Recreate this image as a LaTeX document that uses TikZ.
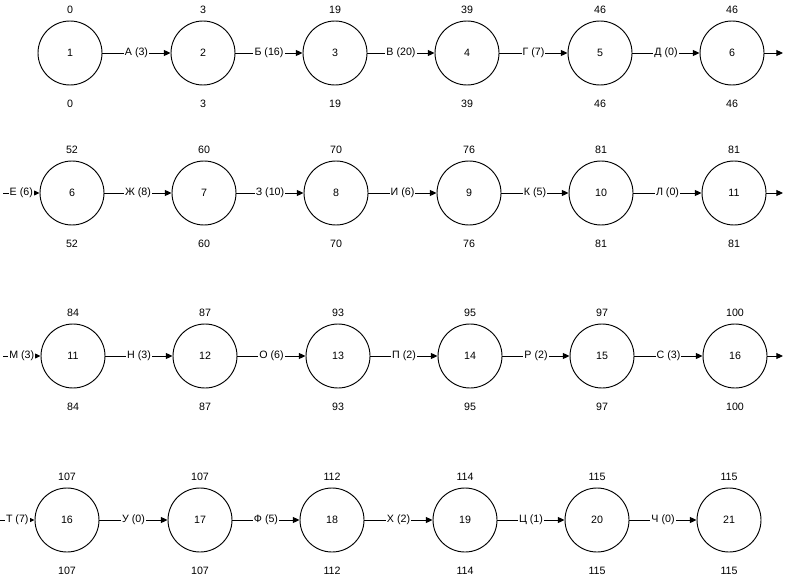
\documentclass[tikz,border=0pt]{standalone}
\usepackage{fontspec}
\setmainfont{Liberation Sans}
\usetikzlibrary{arrows.meta}
\tikzset{
  >={Triangle[length=5pt,width=4.5pt]},
  txt/.style={font=\fontsize{8}{9.6}\selectfont},
  ev/.style={draw,circle,minimum size=48pt,inner sep=0pt,line width=0.7pt,txt},
  num/.style={txt,inner sep=1pt},
  early/.style={label={[num,label distance=3.8pt]above:#1}},
  late/.style={label={[num,label distance=9.5pt]below:#1}},
  job/.style={->,line width=0.7pt},
  jl/.style={midway,fill=white,inner sep=0.8pt,txt},
}
\begin{document}
\begin{tikzpicture}[x=0.75pt,y=-0.75pt]
  \useasboundingbox (0,0) rectangle (788,585);
  % row 1
  \node[ev,early=0,late=0]   (a1) at (70,53)  {1};
  \node[ev,early=3,late=3]   (a2) at (203,53) {2};
  \node[ev,early=19,late=19] (a3) at (335,53) {3};
  \node[ev,early=39,late=39] (a4) at (467,53) {4};
  \node[ev,early=46,late=46] (a5) at (600,53) {5};
  \node[ev,early=46,late=46] (a6) at (732,53) {6};
  \coordinate (a7) at (783,53);
  % row 2
  \coordinate (b5) at (3,193);
  \node[ev,early=52,late=52] (b6)  at (72,193)  {6};
  \node[ev,early=60,late=60] (b7)  at (204,193) {7};
  \node[ev,early=70,late=70] (b8)  at (336,193) {8};
  \node[ev,early=76,late=76] (b9)  at (469,193) {9};
  \node[ev,early=81,late=81] (b10) at (601,193) {10};
  \node[ev,early=81,late=81] (b11) at (734,193) {11};
  \coordinate (b12) at (783,193);
  % row 3
  \coordinate (c10) at (3,356);
  \node[ev,early=84,late=84]   (c11) at (73,356)  {11};
  \node[ev,early=87,late=87]   (c12) at (205,356) {12};
  \node[ev,early=93,late=93]   (c13) at (338,356) {13};
  \node[ev,early=95,late=95]   (c14) at (470,356) {14};
  \node[ev,early=97,late=97]   (c15) at (602,356) {15};
  \node[ev,early=100,late=100] (c16) at (735,356) {16};
  \coordinate (c17) at (783,356);
  % row 4
  \coordinate (d15) at (0,520);
  \node[ev,early=107,late=107] (d16) at (67,520)  {16};
  \node[ev,early=107,late=107] (d17) at (200,520) {17};
  \node[ev,early=112,late=112] (d18) at (332,520) {18};
  \node[ev,early=114,late=114] (d19) at (465,520) {19};
  \node[ev,early=115,late=115] (d20) at (597,520) {20};
  \node[ev,early=115,late=115] (d21) at (729,520) {21};
  % jobs
  \foreach \s/\t/\w in {a1/a2/{А (3)},a2/a3/{Б (16)},a3/a4/{В (20)},a4/a5/{Г (7)},a5/a6/{Д (0)},
      b5/b6/{Е (6)},b6/b7/{Ж (8)},b7/b8/{З (10)},b8/b9/{И (6)},b9/b10/{К (5)},b10/b11/{Л (0)},
      c10/c11/{М (3)},c11/c12/{Н (3)},c12/c13/{О (6)},c13/c14/{П (2)},c14/c15/{Р (2)},c15/c16/{С (3)},
      d15/d16/{Т (7)},d16/d17/{У (0)},d17/d18/{Ф (5)},d18/d19/{Х (2)},d19/d20/{Ц (1)},d20/d21/{Ч (0)}}
    \draw[job] (\s) -- node[jl] {\w} (\t);
  \foreach \s/\t in {a6/a7,b11/b12,c16/c17}
    \draw[job] (\s) -- (\t);
\end{tikzpicture}
\end{document}
